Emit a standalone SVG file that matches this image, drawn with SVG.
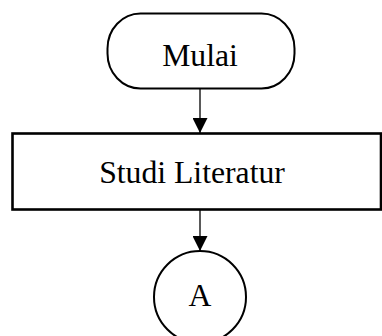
<svg xmlns="http://www.w3.org/2000/svg" width="382" height="336" viewBox="0 0 382 336">
  <defs>
    <style>
      .shape { fill: #ffffff; stroke: #000000; }
      .label { font-family: "Liberation Serif", "Times New Roman", serif; font-size: 31.7px; fill: #000000; text-anchor: middle; }
      .flow { stroke: #000000; stroke-width: 1.3; fill: none; marker-end: url(#arrow); }
    </style>
    <marker id="arrow" markerWidth="15" markerHeight="15" refX="15" refY="7.5" orient="auto" markerUnits="userSpaceOnUse">
      <path d="M0,0 L15,7.5 L0,15 Z" fill="#000000"/>
    </marker>
  </defs>
  <rect width="382" height="336" fill="#ffffff"/>

  <g id="connectors">
    <line class="flow" x1="200" y1="89" x2="200" y2="133"/>
    <line class="flow" x1="200" y1="210" x2="200" y2="251"/>
  </g>

  <g id="mulai">
    <rect class="shape" x="107.5" y="13.5" width="187" height="75" rx="33" ry="35" stroke-width="2"/>
    <text class="label" x="200" y="66">Mulai</text>
  </g>

  <g id="studi-literatur">
    <rect class="shape" x="12.5" y="133.5" width="368.5" height="76" stroke-width="2.6"/>
    <text class="label" x="192" y="183">Studi Literatur</text>
  </g>

  <g id="connector-a">
    <circle class="shape" cx="200" cy="297" r="46" stroke-width="2"/>
    <text class="label" x="200" y="306">A</text>
  </g>
</svg>
